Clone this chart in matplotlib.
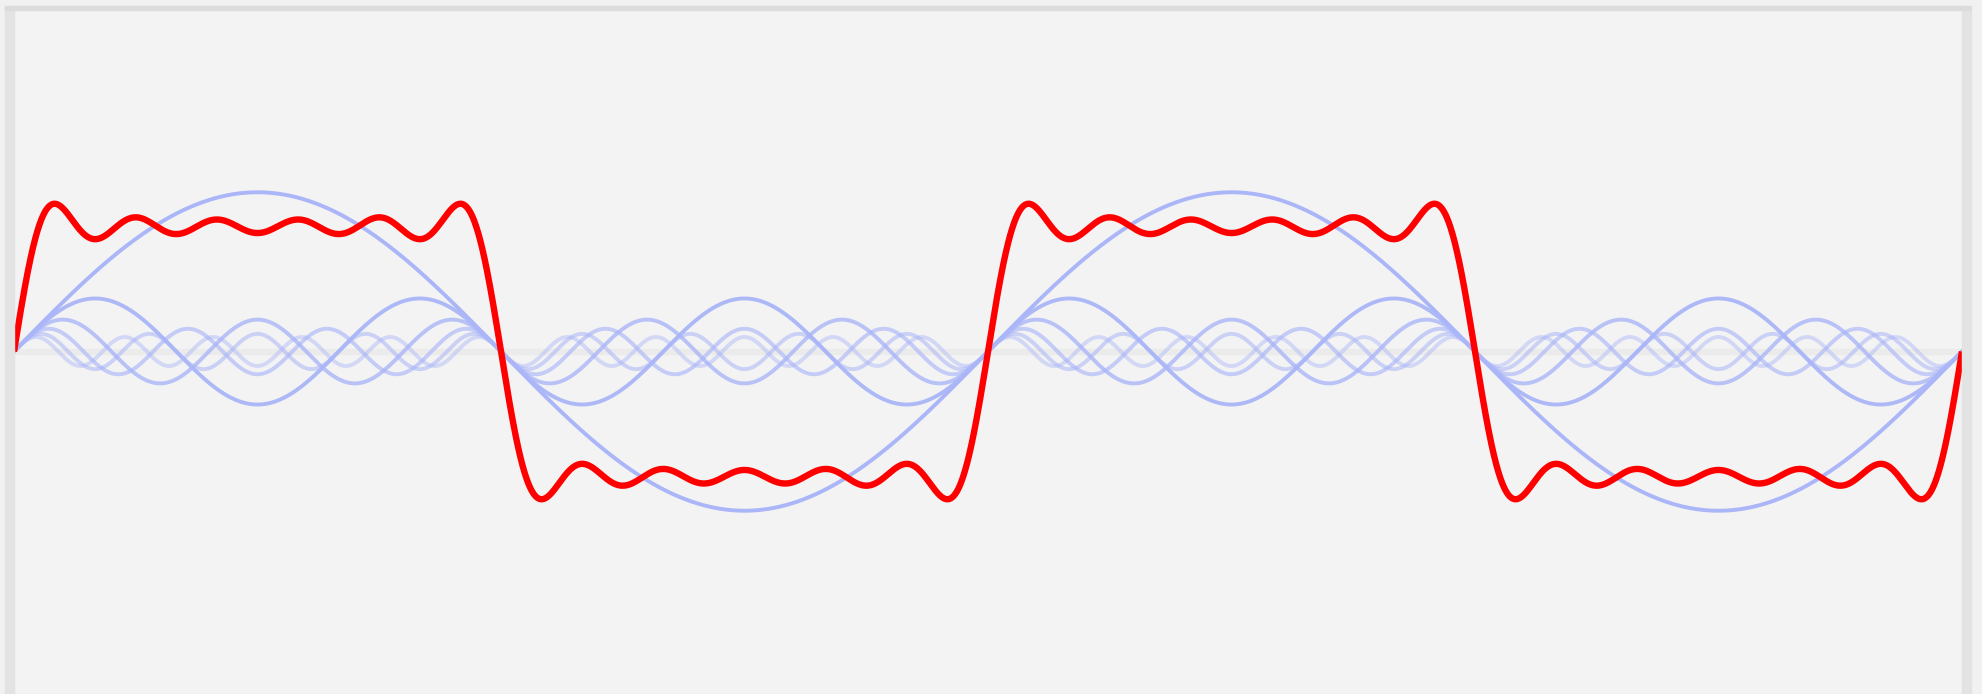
import numpy as np
import matplotlib.pyplot as plt
from matplotlib.patches import Rectangle

# odd harmonics of a unit square wave and their amplitudes (4 / (pi * k))
harmonics = [1, 3, 5, 7, 9, 11]
amplitudes = [1.273, 0.424, 0.255, 0.182, 0.141, 0.116]
# fade of each harmonic curve
harmonic_alpha = [1.0, 0.95, 0.8, 0.65, 0.55, 0.45]

periods = 2

W, H = 1982, 694
fig = plt.figure(figsize=(W / 100, H / 100), dpi=100, facecolor='#f1f1f1')

# frame around the panel
fig.patches.append(Rectangle((5 / W, 0), 9 / W, 1 - 6 / H, transform=fig.transFigure,
                             color='#e3e3e3', zorder=0))
fig.patches.append(Rectangle((1962 / W, 0), 9 / W, 1 - 6 / H, transform=fig.transFigure,
                             color='#e3e3e3', zorder=0))
fig.patches.append(Rectangle((5 / W, 1 - 10 / H), 1966 / W, 4 / H, transform=fig.transFigure,
                             color='#dcdcdc', zorder=0))

ax = fig.add_axes([14 / W, 1 / H, 1948 / W, 683 / H])
ax.set_facecolor('#f3f3f3')
for s in ax.spines.values():
    s.set_visible(False)
ax.set_xticks([])
ax.set_yticks([])

x = np.linspace(0, periods, 4000)
ax.axhline(0, color='#ebebeb', lw=4.5, zorder=1)

total = np.zeros_like(x)
for k, a, al in zip(harmonics, amplitudes, harmonic_alpha):
    y = a * np.sin(2 * np.pi * k * x)
    total += y
    ax.plot(x, y, color='#aab6f8', lw=2.8, alpha=al, zorder=2)

ax.plot(x, total, color='#ff0000', lw=4.6, zorder=3, solid_capstyle='butt')

ax.set_xlim(0, periods)
ax.set_ylim(-2.73, 2.73)

fig.savefig('out.png', dpi=100, facecolor=fig.get_facecolor())
